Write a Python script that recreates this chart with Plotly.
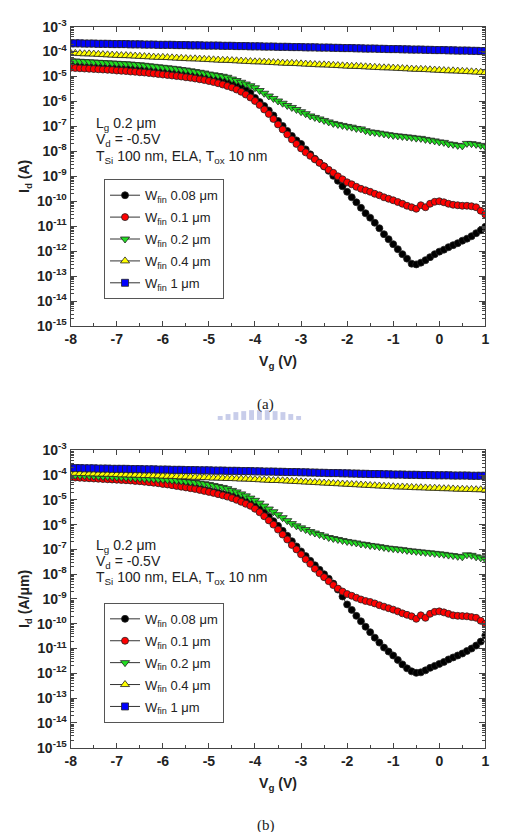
import numpy as np
import plotly.graph_objects as go

# Gate voltage sweep (V), 0.1 V steps
vg = [round(-8 + 0.1 * i, 1) for i in range(91)]

# ---- Panel (a): Id (A), values stored as log10 exponents ----
a_w008 = [-4.58,-4.59,-4.60,-4.61,-4.62,-4.63,-4.64,-4.65,-4.66,-4.67,
          -4.68,-4.69,-4.70,-4.71,-4.72,-4.74,-4.75,-4.77,-4.79,-4.81,
          -4.83,-4.85,-4.87,-4.89,-4.91,-4.93,-4.96,-4.98,-5.01,-5.04,
          -5.07,-5.11,-5.15,-5.19,-5.24,-5.30,-5.37,-5.45,-5.55,-5.66,
          -5.86,-6.02,-6.18,-6.36,-6.56,-6.78,-6.98,-7.18,-7.38,-7.56,
          -7.70,-7.92,-8.12,-8.30,-8.45,-8.60,-8.78,-8.98,-9.18,-9.40,
          -9.62,-9.84,-10.04,-10.26,-10.48,-10.66,-10.86,-11.08,-11.32,-11.52,
          -11.72,-11.92,-12.12,-12.30,-12.50,-12.53,-12.46,-12.36,-12.24,-12.12,
          -12.02,-11.94,-11.84,-11.76,-11.68,-11.58,-11.50,-11.40,-11.28,-11.16,
          -11.02]
a_w01 = [-4.65,-4.66,-4.67,-4.68,-4.69,-4.70,-4.71,-4.72,-4.73,-4.74,
         -4.76,-4.77,-4.78,-4.80,-4.81,-4.83,-4.84,-4.86,-4.88,-4.90,
         -4.92,-4.94,-4.96,-4.98,-5.00,-5.03,-5.05,-5.08,-5.11,-5.14,
         -5.18,-5.22,-5.27,-5.32,-5.38,-5.44,-5.52,-5.61,-5.72,-5.84,
         -5.98,-6.14,-6.32,-6.50,-6.70,-6.92,-7.12,-7.32,-7.52,-7.70,
         -7.88,-8.04,-8.18,-8.32,-8.46,-8.60,-8.74,-8.86,-9.00,-9.12,
         -9.24,-9.32,-9.42,-9.50,-9.56,-9.62,-9.70,-9.76,-9.84,-9.90,
         -9.96,-10.03,-10.10,-10.18,-10.24,-10.30,-10.16,-10.24,-10.10,-10.02,
         -10.00,-10.04,-10.10,-10.14,-10.16,-10.18,-10.18,-10.20,-10.24,-10.38,
         -10.53]
a_w02 = [-4.37,-4.38,-4.39,-4.40,-4.41,-4.42,-4.43,-4.44,-4.45,-4.46,
         -4.47,-4.48,-4.49,-4.50,-4.52,-4.53,-4.55,-4.57,-4.59,-4.61,
         -4.63,-4.65,-4.67,-4.69,-4.72,-4.74,-4.77,-4.80,-4.83,-4.86,
         -4.90,-4.93,-4.96,-4.99,-5.03,-5.10,-5.16,-5.23,-5.30,-5.37,
         -5.45,-5.56,-5.67,-5.78,-5.88,-5.98,-6.07,-6.16,-6.24,-6.32,
         -6.41,-6.49,-6.58,-6.64,-6.70,-6.76,-6.82,-6.88,-6.92,-6.96,
         -7.00,-7.03,-7.08,-7.10,-7.17,-7.22,-7.24,-7.27,-7.30,-7.33,
         -7.36,-7.38,-7.40,-7.42,-7.44,-7.47,-7.48,-7.52,-7.55,-7.58,
         -7.62,-7.64,-7.70,-7.72,-7.76,-7.78,-7.68,-7.69,-7.72,-7.76,
         -7.82]
a_w04 = [-4.06,-4.07,-4.08,-4.09,-4.09,-4.10,-4.11,-4.12,-4.13,-4.14,
         -4.15,-4.16,-4.16,-4.17,-4.18,-4.19,-4.20,-4.21,-4.22,-4.23,
         -4.23,-4.24,-4.25,-4.26,-4.27,-4.28,-4.29,-4.29,-4.30,-4.31,
         -4.32,-4.33,-4.34,-4.35,-4.35,-4.36,-4.37,-4.38,-4.39,-4.40,
         -4.41,-4.41,-4.42,-4.43,-4.44,-4.45,-4.46,-4.47,-4.47,-4.48,
         -4.49,-4.50,-4.51,-4.52,-4.53,-4.53,-4.54,-4.55,-4.56,-4.57,
         -4.58,-4.59,-4.59,-4.60,-4.61,-4.62,-4.63,-4.64,-4.65,-4.65,
         -4.66,-4.67,-4.68,-4.69,-4.70,-4.71,-4.71,-4.72,-4.73,-4.74,
         -4.75,-4.76,-4.77,-4.77,-4.78,-4.79,-4.80,-4.81,-4.82,-4.83,
         -4.84]
a_w1 = [-3.67,-3.67,-3.67,-3.68,-3.68,-3.68,-3.69,-3.69,-3.69,-3.70,
        -3.70,-3.70,-3.70,-3.71,-3.71,-3.71,-3.72,-3.72,-3.72,-3.73,
        -3.73,-3.73,-3.73,-3.74,-3.74,-3.74,-3.75,-3.75,-3.75,-3.76,
        -3.76,-3.76,-3.76,-3.77,-3.77,-3.77,-3.78,-3.78,-3.78,-3.79,
        -3.79,-3.79,-3.80,-3.80,-3.80,-3.81,-3.81,-3.81,-3.82,-3.82,
        -3.82,-3.83,-3.83,-3.83,-3.84,-3.84,-3.84,-3.85,-3.85,-3.86,
        -3.86,-3.86,-3.87,-3.87,-3.88,-3.88,-3.88,-3.89,-3.89,-3.90,
        -3.90,-3.90,-3.91,-3.91,-3.92,-3.92,-3.92,-3.93,-3.93,-3.94,
        -3.94,-3.94,-3.95,-3.95,-3.96,-3.96,-3.96,-3.97,-3.97,-3.98,
        -3.98]

# ---- Panel (b): Id (A/um), log10 exponents ----
b_w008 = [-4.06,-4.07,-4.08,-4.09,-4.10,-4.11,-4.12,-4.13,-4.14,-4.15,
          -4.16,-4.17,-4.18,-4.19,-4.20,-4.21,-4.23,-4.25,-4.27,-4.29,
          -4.31,-4.33,-4.36,-4.39,-4.42,-4.45,-4.48,-4.51,-4.55,-4.59,
          -4.63,-4.67,-4.71,-4.76,-4.81,-4.86,-4.92,-4.99,-5.06,-5.14,
          -5.24,-5.37,-5.52,-5.68,-5.86,-6.05,-6.25,-6.45,-6.67,-6.88,
          -7.08,-7.27,-7.46,-7.64,-7.82,-8.00,-8.18,-8.38,-8.62,-8.90,
          -9.22,-9.44,-9.68,-9.90,-10.12,-10.34,-10.56,-10.76,-10.96,-11.12,
          -11.28,-11.46,-11.64,-11.80,-11.92,-11.98,-11.96,-11.88,-11.78,-11.70,
          -11.62,-11.54,-11.44,-11.36,-11.28,-11.20,-11.10,-11.00,-10.88,-10.72,
          -10.47]
b_w01 = [-4.09,-4.10,-4.11,-4.12,-4.13,-4.14,-4.15,-4.16,-4.17,-4.18,
         -4.19,-4.20,-4.21,-4.22,-4.24,-4.25,-4.27,-4.29,-4.31,-4.33,
         -4.36,-4.38,-4.41,-4.44,-4.47,-4.50,-4.53,-4.56,-4.60,-4.64,
         -4.68,-4.72,-4.77,-4.82,-4.87,-4.93,-5.00,-5.08,-5.16,-5.24,
         -5.36,-5.50,-5.66,-5.83,-6.00,-6.20,-6.40,-6.60,-6.82,-7.00,
         -7.20,-7.40,-7.58,-7.78,-7.96,-8.12,-8.28,-8.44,-8.58,-8.70,
         -8.80,-8.87,-8.95,-9.02,-9.08,-9.12,-9.18,-9.25,-9.31,-9.37,
         -9.43,-9.50,-9.58,-9.64,-9.70,-9.80,-9.66,-9.76,-9.60,-9.52,
         -9.50,-9.54,-9.60,-9.66,-9.68,-9.69,-9.70,-9.73,-9.76,-9.88,
         -10.00]
b_w02 = [-4.00,-4.01,-4.02,-4.02,-4.03,-4.04,-4.05,-4.06,-4.06,-4.07,
         -4.08,-4.09,-4.10,-4.11,-4.12,-4.13,-4.14,-4.15,-4.16,-4.17,
         -4.18,-4.19,-4.21,-4.22,-4.24,-4.26,-4.28,-4.30,-4.32,-4.35,
         -4.38,-4.42,-4.46,-4.50,-4.55,-4.62,-4.68,-4.76,-4.84,-4.93,
         -5.02,-5.13,-5.25,-5.37,-5.48,-5.60,-5.72,-5.84,-5.96,-6.05,
         -6.13,-6.20,-6.28,-6.34,-6.40,-6.46,-6.52,-6.56,-6.60,-6.64,
         -6.68,-6.71,-6.74,-6.78,-6.80,-6.84,-6.86,-6.89,-6.92,-6.95,
         -6.97,-6.99,-7.01,-7.04,-7.06,-7.08,-7.10,-7.12,-7.14,-7.16,
         -7.18,-7.20,-7.23,-7.25,-7.28,-7.30,-7.22,-7.24,-7.30,-7.34,
         -7.40]
b_w04 = [-3.93,-3.93,-3.94,-3.94,-3.95,-3.95,-3.96,-3.96,-3.97,-3.97,
         -3.98,-3.99,-3.99,-4.00,-4.00,-4.01,-4.02,-4.02,-4.03,-4.03,
         -4.04,-4.05,-4.05,-4.06,-4.07,-4.07,-4.08,-4.09,-4.09,-4.10,
         -4.11,-4.12,-4.12,-4.13,-4.14,-4.14,-4.15,-4.16,-4.16,-4.17,
         -4.18,-4.19,-4.20,-4.21,-4.22,-4.22,-4.23,-4.24,-4.25,-4.26,
         -4.27,-4.28,-4.29,-4.30,-4.31,-4.32,-4.33,-4.34,-4.35,-4.36,
         -4.37,-4.38,-4.39,-4.40,-4.41,-4.42,-4.43,-4.44,-4.45,-4.46,
         -4.47,-4.48,-4.48,-4.49,-4.50,-4.51,-4.51,-4.52,-4.53,-4.53,
         -4.54,-4.55,-4.55,-4.56,-4.57,-4.57,-4.58,-4.58,-4.59,-4.59,
         -4.60]
b_w1 = [-3.72,-3.72,-3.72,-3.73,-3.73,-3.73,-3.74,-3.74,-3.74,-3.75,
        -3.75,-3.75,-3.75,-3.76,-3.76,-3.76,-3.77,-3.77,-3.77,-3.78,
        -3.78,-3.78,-3.79,-3.79,-3.79,-3.80,-3.80,-3.80,-3.81,-3.81,
        -3.81,-3.82,-3.82,-3.82,-3.83,-3.83,-3.83,-3.84,-3.84,-3.84,
        -3.85,-3.85,-3.86,-3.86,-3.86,-3.87,-3.87,-3.88,-3.88,-3.88,
        -3.89,-3.89,-3.90,-3.90,-3.91,-3.91,-3.92,-3.92,-3.92,-3.93,
        -3.93,-3.94,-3.94,-3.95,-3.95,-3.96,-3.96,-3.96,-3.97,-3.97,
        -3.98,-3.98,-3.98,-3.99,-3.99,-3.99,-4.00,-4.00,-4.00,-4.01,
        -4.01,-4.01,-4.01,-4.02,-4.02,-4.02,-4.02,-4.03,-4.03,-4.03,
        -4.03]

series_names = ["W<sub>fin</sub> 0.08 \u03bcm", "W<sub>fin</sub> 0.1 \u03bcm",
                "W<sub>fin</sub> 0.2 \u03bcm", "W<sub>fin</sub> 0.4 \u03bcm",
                "W<sub>fin</sub> 1 \u03bcm"]
series_colors = ["#000000", "#ff0000", "#22dd22", "#ffff00", "#0000ff"]
series_symbols = ["circle", "circle", "triangle-down", "triangle-up", "square"]
series_sizes = [7, 7, 8, 8, 7]

y_tickvals = [10.0 ** e for e in range(-15, -2)]
y_ticktext = ["<b>10<sup>%d</sup></b>" % e for e in range(-15, -2)]
x_tickvals = [-8, -7, -6, -5, -4, -3, -2, -1, 0, 1]
x_ticktext = ["<b>%d</b>" % v for v in x_tickvals]

panel_a = [a_w008, a_w01, a_w02, a_w04, a_w1]
panel_b = [b_w008, b_w01, b_w02, b_w04, b_w1]

fig = go.Figure()
FONT = "Liberation Sans"

for p, (data, xa, ya, lg) in enumerate([(panel_a, "x", "y", "legend"),
                                         (panel_b, "x2", "y2", "legend2")]):
    for k in range(5):
        fig.add_trace(go.Scatter(
            x=vg, y=[10.0 ** v for v in data[k]], mode="lines+markers",
            name=series_names[k], xaxis=xa, yaxis=ya, legend=lg,
            legendgroup="%s_%d" % (lg, k),
            line=dict(color="#333333", width=1),
            marker=dict(symbol=series_symbols[k], size=series_sizes[k],
                        color=series_colors[k],
                        line=dict(color="#222222", width=0.8)),
        ))

xl, xr = 66 / 507, 489 / 507
H = 832.0
def py(px):
    return 1 - px / H

axis_common = dict(showline=True, linecolor="#444444", linewidth=1.2, mirror="allticks",
                   ticks="inside", tickcolor="#444444", showgrid=False, zeroline=False,
                   tickfont=dict(family=FONT, size=14, color="#222222"))

xaxis_cfg = dict(axis_common, range=[-8, 1], tickmode="array", tickvals=x_tickvals,
                 ticktext=x_ticktext, ticklen=5,
                 minor=dict(ticks="inside", ticklen=3, tickmode="linear", dtick=0.5, tick0=-8,
                            tickcolor="#444444"),
                 title=dict(text="<b>V<sub>g</sub> (V)</b>", font=dict(family=FONT, size=14, color="#222222"),
                            standoff=10))
yaxis_cfg = dict(axis_common, type="log", range=[-15, -3], tickmode="array",
                 tickvals=y_tickvals, ticktext=y_ticktext, ticklen=6,
                 minor=dict(ticks="inside", ticklen=3, tickmode="linear", dtick="D1",
                            tickcolor="#444444"))

fig.update_layout(
    width=507, height=832, margin=dict(l=0, r=0, t=0, b=0),
    paper_bgcolor="white", plot_bgcolor="white", showlegend=True,
    xaxis=dict(xaxis_cfg, domain=[xl, xr], anchor="y"),
    yaxis=dict(yaxis_cfg, domain=[py(323), py(17)], anchor="x",
               title=dict(text="<b>I<sub>d</sub> (A)</b>", font=dict(family=FONT, size=14, color="#222222"),
                          standoff=4)),
    xaxis2=dict(xaxis_cfg, domain=[xl, xr], anchor="y2"),
    yaxis2=dict(yaxis_cfg, domain=[py(754), py(450)], anchor="x2",
                title=dict(text="<b>I<sub>d</sub> (A/\u03bcm)</b>", font=dict(family=FONT, size=14, color="#222222"),
                           standoff=4)),
    legend=dict(x=100 / 507, y=py(173), xanchor="left", yanchor="top",
                bgcolor="white", bordercolor="#555555", borderwidth=1,
                font=dict(family=FONT, size=13, color="#222222"), tracegroupgap=2),
    legend2=dict(x=100 / 507, y=py(606), xanchor="left", yanchor="top",
                 bgcolor="white", bordercolor="#555555", borderwidth=1,
                 font=dict(family=FONT, size=13, color="#222222"), tracegroupgap=2),
)

def add_text(txt, x, y):
    fig.add_annotation(text=txt, x=x / 507, y=py(y), xref="paper", yref="paper",
                       xanchor="left", yanchor="middle", showarrow=False,
                       font=dict(family=FONT, size=14, color="#222222"))

for base in (0, 431):
    add_text("L<sub>g</sub> 0.2 \u03bcm", 90, 117 + base)
    add_text("V<sub>d</sub> = -0.5V", 90, 133 + base)
    add_text("T<sub>Si</sub> 100 nm, ELA, T<sub>ox</sub> 10 nm", 90, 150 + base)

for lab, y in (("(a)", 403), ("(b)", 834)):
    fig.add_annotation(text=lab, x=265 / 507, y=py(y), xref="paper", yref="paper",
                       xanchor="center", yanchor="middle", showarrow=False,
                       font=dict(family="Liberation Serif", size=15, color="#222222"))

# faint watermark logo below "(a)"
heights = [4, 6, 8, 9, 10, 10, 10, 9, 8, 6, 4]
for i, hgt in enumerate(heights):
    x0 = 216 + i * 8
    fig.add_shape(type="rect", xref="paper", yref="paper",
                  x0=x0 / 507, x1=(x0 + 5) / 507, y0=py(419), y1=py(419 - hgt),
                  line=dict(width=0), fillcolor="#c8cdea", layer="below")

fig.write_html("out.html")
